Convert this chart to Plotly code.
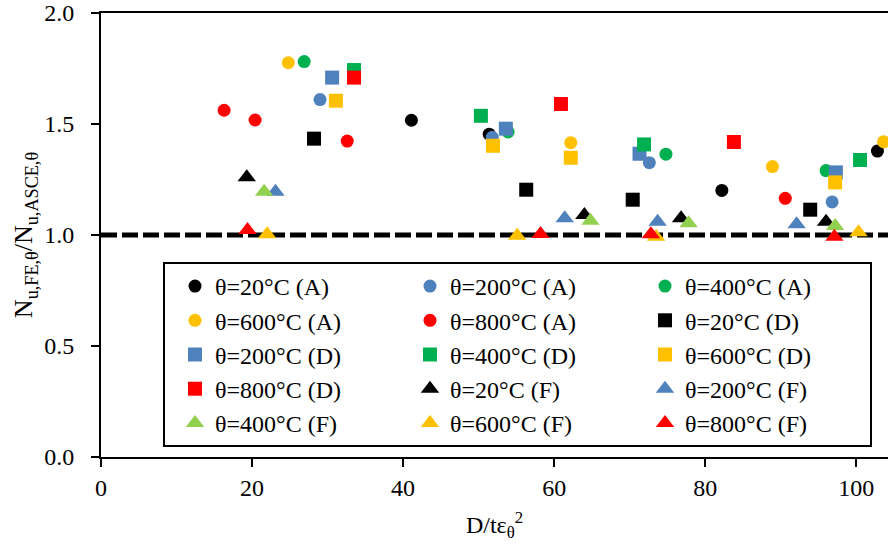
import plotly.graph_objects as go

FONT = "Liberation Serif, Times New Roman, Times, serif"

# ---------------- data ----------------
names = [
    "θ=20°C (A)", "θ=200°C (A)", "θ=400°C (A)", "θ=600°C (A)", "θ=800°C (A)",
    "θ=20°C (D)", "θ=200°C (D)", "θ=400°C (D)", "θ=600°C (D)", "θ=800°C (D)",
    "θ=20°C (F)", "θ=200°C (F)", "θ=400°C (F)", "θ=600°C (F)", "θ=800°C (F)",
]

# Circles (A)
x_20A = [41.1, 51.4, 82.2, 102.8]
y_20A = [1.517, 1.454, 1.201, 1.378]
x_200A = [29.0, 51.8, 72.6, 96.8]
y_200A = [1.610, 1.440, 1.326, 1.149]
x_400A = [26.9, 53.9, 74.8, 96.0]
y_400A = [1.781, 1.464, 1.364, 1.290]
x_600A = [24.8, 62.2, 88.9, 103.6]
y_600A = [1.776, 1.416, 1.308, 1.420]
x_800A = [16.3, 20.4, 32.6, 90.6]
y_800A = [1.562, 1.518, 1.423, 1.165]

# Squares (D)
x_20D = [28.2, 56.3, 70.4, 93.9]
y_20D = [1.434, 1.204, 1.159, 1.114]
x_200D = [30.6, 53.6, 71.3, 97.3]
y_200D = [1.709, 1.479, 1.366, 1.282]
x_400D = [33.5, 50.3, 71.9, 100.5]
y_400D = [1.743, 1.537, 1.408, 1.338]
x_600D = [31.1, 51.9, 62.2, 97.2]
y_600D = [1.605, 1.402, 1.348, 1.237]
x_800D = [33.5, 60.9, 83.8]
y_800D = [1.709, 1.590, 1.419]

# Triangles (F)
x_20F = [19.3, 64.0, 76.8, 96.0]
y_20F = [1.260, 1.090, 1.075, 1.060]
x_200F = [23.1, 61.4, 73.7, 92.1]
y_200F = [1.195, 1.075, 1.060, 1.048]
x_400F = [21.6, 64.8, 77.8, 97.2]
y_400F = [1.195, 1.064, 1.053, 1.041]
x_600F = [22.0, 55.1, 73.5, 100.3]
y_600F = [1.003, 0.997, 0.992, 1.012]
x_800F = [19.4, 58.2, 72.8, 97.1]
y_800F = [1.023, 1.005, 1.003, 0.992]

xs = [x_20A, x_200A, x_400A, x_600A, x_800A,
      x_20D, x_200D, x_400D, x_600D, x_800D,
      x_20F, x_200F, x_400F, x_600F, x_800F]
ys = [y_20A, y_200A, y_400A, y_600A, y_800A,
      y_20D, y_200D, y_400D, y_600D, y_800D,
      y_20F, y_200F, y_400F, y_600F, y_800F]

colors = ["#000000", "#4F81BD", "#00B050", "#FFC000", "#FF0000",
          "#000000", "#4F81BD", "#00B050", "#FFC000", "#FF0000",
          "#000000", "#4F81BD", "#92D050", "#FFC000", "#FF0000"]
symbols = ["circle"] * 5 + ["square"] * 5 + ["triangle-up"] * 5
sizes = [13] * 5 + [14] * 5 + [16] * 5

reference_y = 1.0
x_ticks = [0, 20, 40, 60, 80, 100]
y_ticks = [0.0, 0.5, 1.0, 1.5, 2.0]
x_range = [0, 104.2]
y_range = [0, 2.0]

# ---------------- figure ----------------
fig = go.Figure()

# dashed reference line at y = 1.0
fig.add_trace(go.Scatter(
    x=x_range, y=[reference_y, reference_y], mode="lines",
    line=dict(color="black", width=5, dash="16px,5px"),
    showlegend=False, hoverinfo="skip",
))

for n, x, y, c, s, sz in zip(names, xs, ys, colors, symbols, sizes):
    fig.add_trace(go.Scatter(
        x=x, y=y, mode="markers", name=n,
        marker=dict(color=c, symbol=s, size=sz, line=dict(width=0)),
    ))

fig.update_layout(
    width=888, height=552,
    margin=dict(l=101, r=0, t=13, b=95),
    paper_bgcolor="white", plot_bgcolor="white",
    font=dict(family=FONT, size=24, color="black"),
    showlegend=True,
    legend=dict(
        orientation="h",
        x=(163 - 101) / 787, y=(457 - 262) / 444,
        xanchor="left", yanchor="top",
        entrywidth=180, entrywidthmode="pixels",
        indentation=10,
        bgcolor="white", bordercolor="black", borderwidth=2,
        font=dict(family=FONT, size=24, color="black"),
        traceorder="normal",
    ),
)

fig.update_xaxes(
    range=x_range, tickvals=x_ticks,
    showgrid=False, zeroline=False,
    showline=True, linecolor="black", linewidth=2, mirror=True,
    ticks="outside", ticklen=8, tickwidth=2, tickcolor="black",
    ticklabelstandoff=0,
    tickfont=dict(family=FONT, size=24, color="black"),
    title=dict(text="D/tε<sub>θ</sub><sup>2</sup>",
               font=dict(family=FONT, size=24, color="black"), standoff=16),
)
fig.update_yaxes(
    range=y_range, tickvals=y_ticks, tickformat=".1f",
    showgrid=False, zeroline=False,
    showline=True, linecolor="black", linewidth=2,
    ticks="outside", ticklen=8, tickwidth=2, tickcolor="black",
    ticklabelstandoff=12,
    tickfont=dict(family=FONT, size=24, color="black"),
    title=dict(text="N<sub>u,FE,θ</sub>/N<sub>u,ASCE,θ</sub>",
               font=dict(family=FONT, size=26, color="black"), standoff=4),
)

fig.write_html("out.html")
